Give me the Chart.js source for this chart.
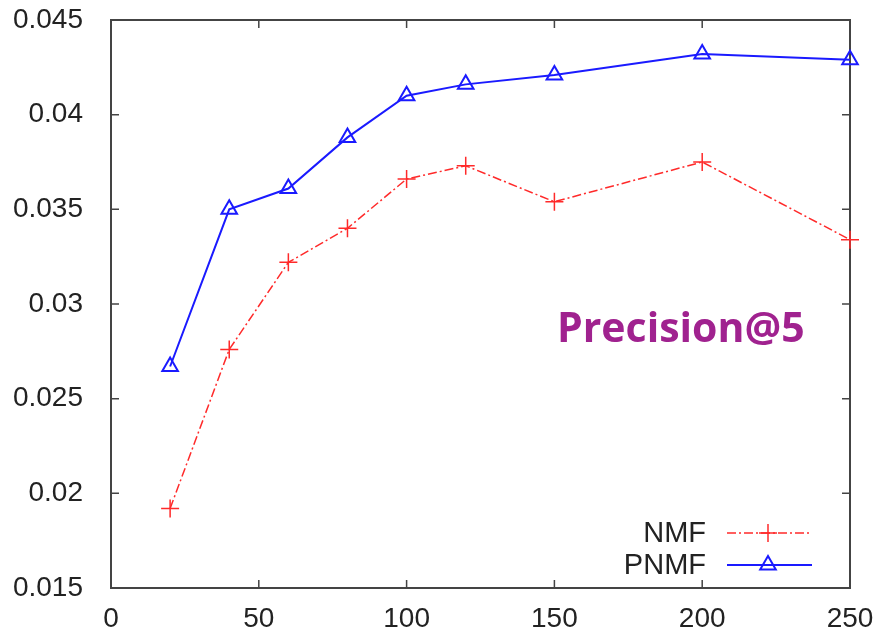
<!DOCTYPE html>
<html>
<head>
<meta charset="utf-8">
<script src="https://cdn.jsdelivr.net/npm/chart.js@4.4.0/dist/chart.umd.min.js"></script>
<style>
  html, body { margin: 0; padding: 0; background: #fff; }
  #wrap { width: 883px; height: 635px; position: relative; }
</style>
</head>
<body>
<div id="wrap"><canvas id="precisionChart"></canvas></div>
<script>
// data
const components = [20, 40, 60, 80, 100, 120, 150, 200, 250];
const nmfValues = [0.0192, 0.0276, 0.0322, 0.0340, 0.0366, 0.0373, 0.0354, 0.0375, 0.0334];
const pnmfValues = [0.0267, 0.0350, 0.0361, 0.0388, 0.0410, 0.0416, 0.0421, 0.0432, 0.0429];
const xTicks = [0, 50, 100, 150, 200, 250];
const yTicks = [0.015, 0.02, 0.025, 0.03, 0.035, 0.04, 0.045];

function toPoints(values) {
    return components.map(function(c, i) { return { x: c, y: values[i] }; });
}

const tickFont = { family: '"Liberation Sans", Arial, sans-serif', size: 28 };

// frame with inward ticks on all four sides, plus the legend in the corner
const framePlugin = {
    id: 'frame',
    beforeDatasetsDraw: function(chart) {
        const ctx = chart.ctx;
        const a = chart.chartArea;
        const xs = chart.scales.x, ys = chart.scales.y;
        ctx.save();
        ctx.strokeStyle = '#444';
        ctx.lineWidth = 2;
        ctx.strokeRect(a.left, a.top, a.right - a.left, a.bottom - a.top);
        ctx.lineWidth = 1.5;
        ctx.beginPath();
        xTicks.forEach(function(t) {
            const px = xs.getPixelForValue(t);
            ctx.moveTo(px, a.bottom); ctx.lineTo(px, a.bottom - 8);
            ctx.moveTo(px, a.top); ctx.lineTo(px, a.top + 8);
        });
        yTicks.forEach(function(t) {
            const py = ys.getPixelForValue(t);
            ctx.moveTo(a.left, py); ctx.lineTo(a.left + 8, py);
            ctx.moveTo(a.right, py); ctx.lineTo(a.right - 8, py);
        });
        ctx.stroke();
        ctx.restore();
    },
    afterDraw: function(chart) {
        const ctx = chart.ctx;
        const a = chart.chartArea;
        ctx.save();
        ctx.font = '29px "Liberation Sans", Arial, sans-serif';
        ctx.textAlign = 'right';
        ctx.textBaseline = 'middle';
        const rows = [
            { label: 'NMF', y: a.bottom - 55, ds: chart.data.datasets[0] },
            { label: 'PNMF', y: a.bottom - 23, ds: chart.data.datasets[1] }
        ];
        rows.forEach(function(r) {
            ctx.fillStyle = '#222';
            ctx.fillText(r.label, 706, r.y + 1);
            ctx.strokeStyle = r.ds.borderColor;
            ctx.lineWidth = r.ds.borderWidth;
            ctx.setLineDash(r.ds.borderDash || []);
            ctx.beginPath();
            ctx.moveTo(727, r.y); ctx.lineTo(812, r.y);
            ctx.stroke();
            ctx.setLineDash([]);
            ctx.fillStyle = 'rgba(0,0,0,0)';
            ctx.lineWidth = r.ds.pointBorderWidth;
            Chart.helpers.drawPoint(ctx, {
                pointStyle: r.ds.pointStyle,
                radius: r.ds.pointRadius,
                rotation: 0,
                borderWidth: r.ds.pointBorderWidth
            }, 768, r.y);
        });
        // annotation
        ctx.font = 'bold 41px "Open Sans", Lato, sans-serif';
        ctx.fillStyle = '#A0228F';
        ctx.textAlign = 'left';
        ctx.fillText('Precision@5', 557, 330);
        ctx.restore();
    }
};

new Chart(document.getElementById('precisionChart').getContext('2d'), {
    type: 'line',
    data: {
        datasets: [
            {
                label: 'NMF',
                data: toPoints(nmfValues),
                borderColor: '#ff2a2a',
                backgroundColor: 'transparent',
                borderWidth: 1.5,
                borderDash: [9, 3, 2, 3],
                pointStyle: 'cross',
                pointRadius: 9,
                pointBorderWidth: 1.5,
                pointBorderColor: '#ff2a2a',
                tension: 0,
                clip: false
            },
            {
                label: 'PNMF',
                data: toPoints(pnmfValues),
                borderColor: '#1a1aff',
                backgroundColor: 'transparent',
                borderWidth: 2,
                pointStyle: 'triangle',
                pointRadius: 9,
                pointBorderWidth: 2,
                pointBorderColor: '#1a1aff',
                pointBackgroundColor: 'transparent',
                tension: 0,
                clip: false
            }
        ]
    },
    options: {
        responsive: true,
        maintainAspectRatio: false,
        animation: false,
        layout: { padding: { top: 20, right: 33, left: 0, bottom: 0 } },
        plugins: {
            legend: { display: false },
            tooltip: { enabled: false }
        },
        scales: {
            x: {
                type: 'linear',
                min: 0,
                max: 250,
                afterBuildTicks: function(scale) {
                    scale.ticks = xTicks.map(function(v) { return { value: v }; });
                },
                grid: { display: false },
                border: { display: false },
                ticks: { font: tickFont, color: '#222', padding: 6, maxRotation: 0 },
                afterFit: function(scale) {
                    scale.height = 47;
                    scale.paddingLeft = 0;
                    scale.paddingRight = 0;
                }
            },
            y: {
                min: 0.015,
                max: 0.045,
                afterBuildTicks: function(scale) {
                    scale.ticks = yTicks.map(function(v) { return { value: v }; });
                },
                grid: { display: false },
                border: { display: false },
                ticks: {
                    font: tickFont,
                    color: '#222',
                    padding: 20,
                    callback: function(v) { return String(Math.round(v * 1000) / 1000); }
                },
                afterFit: function(scale) {
                    scale.width = 111;
                    scale.paddingTop = 0;
                    scale.paddingBottom = 0;
                }
            }
        }
    },
    plugins: [framePlugin]
});
</script>
</body>
</html>
